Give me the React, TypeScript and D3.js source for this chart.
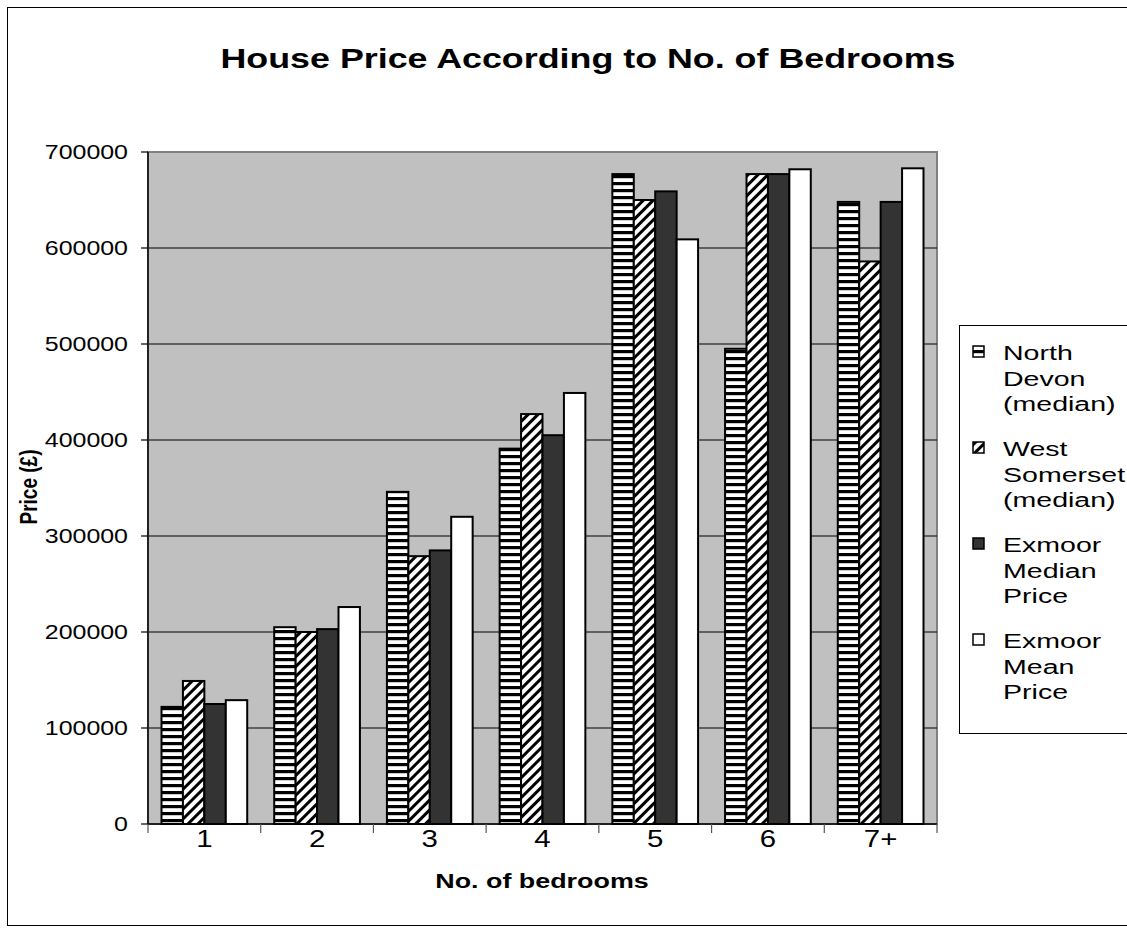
import React from "react";
import * as d3 from "d3";

// Bedroom categories and median / mean prices (GBP)
const categories = ["1", "2", "3", "4", "5", "6", "7+"];
const northDevon = [122000, 205000, 346000, 391000, 677000, 495000, 648000];
const westSomerset = [149000, 200000, 279000, 427000, 650000, 677000, 586000];
const exmoorMedian = [125000, 203000, 285000, 405000, 659000, 677000, 648000];
const exmoorMean = [129000, 226000, 320000, 449000, 609000, 682000, 683000];

const seriesKeys = ["nd", "ws", "em", "mean"];
const seriesLabels = [
  ["North", "Devon", "(median)"],
  ["West", "Somerset", "(median)"],
  ["Exmoor", "Median", "Price"],
  ["Exmoor", "Mean", "Price"],
];
const yTicks = [0, 100000, 200000, 300000, 400000, 500000, 600000, 700000];

const W = 1127;
const H = 936;
const plot = { left: 148, right: 937, top: 152, bottom: 824 };
const SX = 1.28; // horizontal text stretch
const FONT = "'Liberation Sans', Arial, sans-serif";

const fills: Record<string, string> = {
  nd: "url(#hstripe)",
  ws: "url(#dstripe)",
  em: "#333333",
  mean: "#ffffff",
};

function T(props: {
  x: number;
  y: number;
  anchor?: "start" | "middle" | "end";
  size: number;
  bold?: boolean;
  rotate?: number;
  sx?: number;
  children: React.ReactNode;
}) {
  const { x, y, anchor = "start", size, bold, rotate = 0, sx = SX, children } = props;
  return (
    <text
      transform={`translate(${x},${y}) scale(${sx},1) rotate(${rotate})`}
      textAnchor={anchor}
      fontFamily={FONT}
      fontSize={size}
      fontWeight={bold ? "bold" : "normal"}
      fill="#000"
    >
      {children}
    </text>
  );
}

export default function App() {
  const x = d3
    .scaleBand<string>()
    .domain(categories)
    .range([plot.left, plot.right])
    .paddingInner(0)
    .paddingOuter(0);
  const inner = d3
    .scaleBand<string>()
    .domain(seriesKeys)
    .range([0, x.bandwidth()])
    .paddingInner(0)
    .paddingOuter(0.63);
  const y = d3.scaleLinear().domain([0, 700000]).range([plot.bottom, plot.top]);

  const values: Record<string, number[]> = {
    nd: northDevon,
    ws: westSomerset,
    em: exmoorMedian,
    mean: exmoorMean,
  };

  const boundaries = categories.map((c) => x(c) as number).concat([plot.right]);

  return (
    <svg
      width={W}
      height={H}
      style={{ position: "absolute", left: 0, top: 0, background: "#fff" }}
    >
      <defs>
        <pattern id="hstripe" patternUnits="userSpaceOnUse" width={8} height={7}>
          <rect width={8} height={7} fill="#fff" />
          <rect width={8} height={3.2} fill="#000" />
        </pattern>
        <pattern
          id="dstripe"
          patternUnits="userSpaceOnUse"
          width={7}
          height={7}
          patternTransform="rotate(45)"
        >
          <rect width={7} height={7} fill="#fff" />
          <rect width={3} height={7} fill="#000" />
        </pattern>
      </defs>

      {/* outer chart frame */}
      <rect x={7.5} y={7.5} width={1140} height={918} fill="#fff" stroke="#000" strokeWidth={1} />

      <T x={588} y={68} anchor="middle" size={28} bold>
        House Price According to No. of Bedrooms
      </T>

      {/* plot area */}
      <rect
        x={plot.left}
        y={plot.top}
        width={plot.right - plot.left}
        height={plot.bottom - plot.top}
        fill="#c0c0c0"
        stroke="#808080"
        strokeWidth={2}
      />
      {yTicks
        .filter((t) => t > 0 && t < 700000)
        .map((t) => (
          <line
            key={`g${t}`}
            x1={plot.left}
            x2={plot.right}
            y1={y(t)}
            y2={y(t)}
            stroke="#000"
            strokeWidth={1.2}
          />
        ))}

      {/* bars */}
      {categories.map((c, i) =>
        seriesKeys.map((k) => {
          const v = values[k][i];
          const bx = (x(c) as number) + (inner(k) as number);
          return (
            <rect
              key={`${c}-${k}`}
              x={bx}
              y={y(v)}
              width={inner.bandwidth()}
              height={plot.bottom - y(v)}
              fill={fills[k]}
              stroke="#000"
              strokeWidth={2}
            />
          );
        })
      )}

      {/* y axis */}
      <line x1={plot.left} x2={plot.left} y1={plot.top} y2={plot.bottom} stroke="#222" strokeWidth={2} />
      {yTicks.map((t) => (
        <g key={`yt${t}`}>
          <line x1={plot.left - 7} x2={plot.left} y1={y(t)} y2={y(t)} stroke="#000" strokeWidth={1.2} />
          <T x={128} y={y(t) + 7} anchor="end" size={19.5}>
            {String(t)}
          </T>
        </g>
      ))}

      {/* x axis */}
      <line x1={plot.left} x2={plot.right} y1={plot.bottom} y2={plot.bottom} stroke="#000" strokeWidth={1.5} />
      {boundaries.map((b, i) => (
        <line key={`xt${i}`} x1={b} x2={b} y1={plot.bottom} y2={plot.bottom + 9} stroke="#555" strokeWidth={1.2} />
      ))}
      {categories.map((c) => (
        <T key={`xl${c}`} x={(x(c) as number) + x.bandwidth() / 2} y={847} anchor="middle" size={23}>
          {c}
        </T>
      ))}

      <T x={542} y={888} anchor="middle" size={21} bold>
        No. of bedrooms
      </T>
      <T x={37} y={487} anchor="middle" size={19} bold rotate={-90}>
        Price (£)
      </T>

      {/* legend */}
      <rect x={959.5} y={325.5} width={200} height={408} fill="#fff" stroke="#000" strokeWidth={1} />
      {seriesKeys.map((k, i) => {
        const top = 346 + i * 96;
        return (
          <g key={`lg${k}`}>
            <rect x={973} y={top} width={11} height={11} fill={fills[k]} stroke="#000" strokeWidth={1.5} />
            {seriesLabels[i].map((line, j) => (
              <T key={j} x={1003} y={top + 14 + j * 25.5} size={21} sx={1.36}>
                {line}
              </T>
            ))}
          </g>
        );
      })}
    </svg>
  );
}
